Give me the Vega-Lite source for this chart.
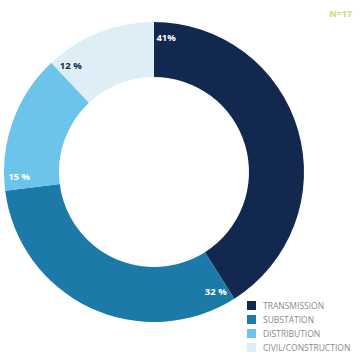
{
  "$schema": "https://vega.github.io/schema/vega-lite/v6.json",
  "width": 308,
  "height": 304,
  "autosize": {"type": "none"},
  "padding": {"left": 0, "top": 20, "right": 52, "bottom": 40},
  "background": "white",
  "title": {
    "text": "N=17",
    "anchor": "end",
    "frame": "group",
    "orient": "top",
    "dx": 44,
    "offset": 1,
    "fontSize": 9,
    "font": "Open Sans",
    "fontWeight": "bold",
    "color": "#c7de78"
  },
  "data": {
    "values": [
      {"category": "TRANSMISSION", "value": 41, "order": 1, "label": "41%", "labelColor": "white"},
      {"category": "SUBSTATION", "value": 32, "order": 2, "label": "32 %", "labelColor": "white"},
      {"category": "DISTRIBUTION", "value": 15, "order": 3, "label": "15 %", "labelColor": "white"},
      {"category": "CIVIL/CONSTRUCTION", "value": 12, "order": 4, "label": "12 %", "labelColor": "#13284e"}
    ]
  },
  "transform": [
    {"stack": "value", "groupby": [], "sort": [{"field": "order"}], "as": ["start", "end"]}
  ],
  "layer": [
    {
      "mark": {"type": "arc", "outerRadius": 150, "innerRadius": 95},
      "encoding": {
        "theta": {"field": "start", "type": "quantitative", "scale": {"domain": [0, 100], "range": [0, 6.283185307]}},
        "theta2": {"field": "end"},
        "color": {
          "field": "category",
          "type": "nominal",
          "sort": ["TRANSMISSION", "SUBSTATION", "DISTRIBUTION", "CIVIL/CONSTRUCTION"],
          "scale": {
            "domain": ["TRANSMISSION", "SUBSTATION", "DISTRIBUTION", "CIVIL/CONSTRUCTION"],
            "range": ["#13284e", "#1b7aa8", "#6dc4ea", "#ddeef7"]
          },
          "legend": {
            "title": null,
            "orient": "none",
            "legendX": 247,
            "legendY": 281,
            "symbolType": "square",
            "symbolSize": 81,
            "symbolStrokeWidth": 0,
            "rowPadding": 5,
            "labelFont": "Open Sans",
            "labelFontSize": 8.5,
            "labelColor": "#8a8a8a",
            "labelOffset": 7
          }
        },
        "order": {"field": "order"}
      }
    },
    {
      "mark": {"type": "text", "radius": 135, "thetaOffset": 0.09, "font": "Open Sans", "fontWeight": "bold", "fontSize": 9.5, "align": "center", "baseline": "middle"},
      "encoding": {
        "theta": {"field": "start", "type": "quantitative", "scale": {"domain": [0, 100], "range": [0, 6.283185307]}},
        "text": {"field": "label"},
        "color": {"field": "labelColor", "type": "nominal", "scale": null}
      }
    }
  ]
}
